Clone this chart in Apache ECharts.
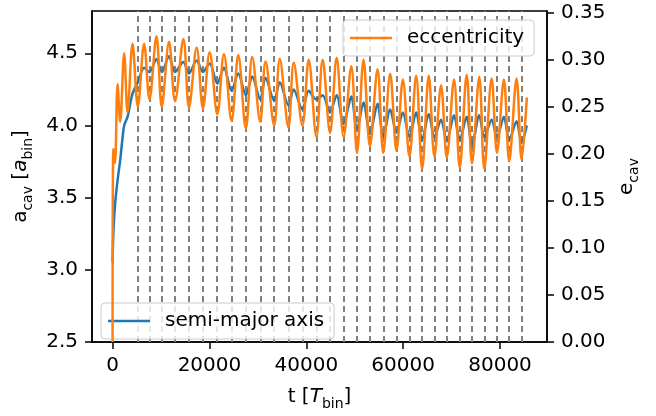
<!DOCTYPE html>
<html>
<head>
<meta charset="utf-8">
<script src="https://cdn.jsdelivr.net/npm/echarts@6/dist/echarts.min.js"></script>
<style>
  html, body { margin: 0; padding: 0; background: #fff; }
  #main { width: 656px; height: 416px; }
</style>
</head>
<body>
<div id="main"></div>
<script>
// time [T_bin]
var tTimes = [0, 150, 500, 1030, 1570, 2389, 3090, 4119, 5211, 6509, 7621, 9063, 10154, 11658,
  12894, 14624, 15777, 17363, 18661, 20041, 21627, 22986, 24572, 25952, 27517, 28836, 30484,
  31576, 33367, 34520, 36313, 37404, 39197, 40494, 42080, 43378, 44902, 46260, 47703, 49290,
  50463, 51823, 53140, 54707, 55880, 57322, 58620, 59937, 61298, 62677, 63913, 65293, 66447,
  67826, 69001, 70504, 71678, 73119, 74212, 75714, 76745, 78269, 79361, 80802, 81894, 83418,
  84448, 85540];

// a_cav [a_bin]
var semiMajor = [3.05, 3.25, 3.45, 3.62, 3.76, 4.00, 4.06, 4.22, 4.30, 4.40, 4.37, 4.46, 4.37, 4.48,
  4.37, 4.44, 4.36, 4.45, 4.37, 4.43, 4.29, 4.40, 4.24, 4.36, 4.21, 4.34, 4.18,
  4.33, 4.17, 4.30, 4.14, 4.25, 4.11, 4.24, 4.18, 4.21, 4.09, 4.21, 4.01, 4.20,
  3.97, 4.16, 3.94, 4.15, 3.92, 4.11, 3.95, 4.09, 3.92, 4.09, 3.90, 4.08, 3.92,
  4.04, 3.89, 4.07, 3.90, 4.06, 3.86, 4.07, 3.92, 4.04, 3.92, 4.06, 3.90, 4.03,
  3.88, 4.00];

// e_cav
var eccentricity = [0.0, 0.205, 0.19, 0.274, 0.234, 0.307, 0.244, 0.317, 0.250, 0.317, 0.258, 0.325, 0.250, 0.319,
  0.256, 0.322, 0.249, 0.313, 0.248, 0.308, 0.242, 0.306, 0.235, 0.305, 0.227, 0.303, 0.234,
  0.298, 0.230, 0.301, 0.228, 0.297, 0.230, 0.300, 0.218, 0.300, 0.222, 0.302, 0.218, 0.293,
  0.201, 0.300, 0.208, 0.290, 0.201, 0.285, 0.203, 0.279, 0.197, 0.283, 0.184, 0.283, 0.197,
  0.273, 0.196, 0.279, 0.185, 0.284, 0.190, 0.282, 0.184, 0.280, 0.201, 0.279, 0.192, 0.280,
  0.194, 0.260];

// vertical dashed markers
var dashedTimes = [5200, 7600, 10150, 12900, 15800, 18650, 21600, 24550, 27500, 30500, 33350,
  36300, 39200, 42100, 44900, 47700, 50450, 53150, 55900, 58600, 61300, 63900, 66450, 69000,
  71700, 74200, 76750, 79350, 81900, 84450];

var xTicks = [0, 20000, 40000, 60000, 80000];
var aTicks = [2.5, 3.0, 3.5, 4.0, 4.5];
var eTicks = [0, 0.05, 0.10, 0.15, 0.20, 0.25, 0.30, 0.35];

var font = 'DejaVu Sans';
var rich = {
  a: { fontSize: 20, fontFamily: font, color: '#000' },
  ai: { fontSize: 20, fontFamily: font, fontStyle: 'italic', color: '#000' },
  s: { fontSize: 14, fontFamily: font, color: '#000', verticalAlign: 'bottom', lineHeight: 28 }
};

var myChart = echarts.init(document.getElementById('main'), null, { renderer: 'canvas' });

var tickStyle = { color: '#000', width: 1.5 };
var labelStyle = { fontSize: 20, fontFamily: font, color: '#000' };

function legendBox(name, left, top, z) {
  return {
    data: [name],
    left: left, top: top,
    z: z,
    icon: 'rect',
    itemWidth: 42, itemHeight: 2.5,
    padding: [8, 10, 8, 7],
    backgroundColor: 'rgba(255,255,255,0.8)',
    borderColor: '#cccccc', borderWidth: 1, borderRadius: 4,
    textStyle: { fontSize: 20, fontFamily: font, color: '#000', padding: [0, 0, 0, 10] }
  };
}

var option = {
  animation: false,
  backgroundColor: '#fff',
  grid: {
    left: 92, right: 109, top: 11, bottom: 66,
    show: true, borderColor: '#000', borderWidth: 1.5, backgroundColor: 'transparent'
  },
  legend: [
    legendBox('semi-major axis', 101, 303, 3),
    legendBox('eccentricity', 343, 20, 6)
  ],
  xAxis: {
    type: 'value',
    min: -4250, max: 89700,
    splitLine: { show: false },
    axisLine: { show: true, onZero: false, lineStyle: tickStyle },
    axisTick: { customValues: xTicks, length: 7, lineStyle: tickStyle },
    axisLabel: Object.assign({
      customValues: xTicks, margin: 14,
      formatter: function (v) { return String(v); }
    }, labelStyle),
    name: '{a|t [}{ai|T}{s|bin}{a|]}',
    nameLocation: 'middle',
    nameGap: 41,
    nameTextStyle: { rich: rich }
  },
  yAxis: [
    {
      type: 'value',
      min: 2.5, max: 4.793,
      position: 'left',
      splitLine: { show: false },
      axisLine: { show: true, onZero: false, lineStyle: tickStyle },
      axisTick: { customValues: aTicks, length: 7, lineStyle: tickStyle },
      axisLabel: Object.assign({
        customValues: aTicks, margin: 14,
        formatter: function (v) { return v.toFixed(1); }
      }, labelStyle),
      name: '{a|a}{s|cav}{a| [}{ai|a}{s|bin}{a|]}',
      nameLocation: 'middle',
      nameRotate: 90,
      nameGap: 48,
      nameTextStyle: { rich: rich }
    },
    {
      type: 'value',
      min: 0, max: 0.3518,
      position: 'right',
      splitLine: { show: false },
      axisLine: { show: true, onZero: false, lineStyle: tickStyle },
      axisTick: { customValues: eTicks, length: 7, lineStyle: tickStyle },
      axisLabel: Object.assign({
        customValues: eTicks, margin: 14,
        formatter: function (v) { return v.toFixed(2); }
      }, labelStyle),
      name: '{a|e}{s|cav}',
      nameLocation: 'middle',
      nameRotate: 90,
      nameGap: 66,
      nameTextStyle: { rich: rich }
    }
  ],
  series: [
    {
      name: 'semi-major axis',
      type: 'line',
      yAxisIndex: 0,
      symbol: 'none',
      smooth: 0.3,
      z: 2,
      lineStyle: { color: '#1f77b4', width: 2.5 },
      itemStyle: { color: '#1f77b4' },
      data: tTimes.map(function (t, i) { return [t, semiMajor[i]]; }),
      markLine: {
        silent: true,
        z: 2,
        symbol: ['none', 'none'],
        label: { show: false },
        lineStyle: { color: '#808080', type: [6, 4], width: 2 },
        data: dashedTimes.map(function (t) { return { xAxis: t }; })
      }
    },
    {
      name: 'eccentricity',
      type: 'line',
      yAxisIndex: 1,
      symbol: 'none',
      smooth: 0.35,
      z: 4,
      lineStyle: { color: '#ff7f0e', width: 2.5 },
      itemStyle: { color: '#ff7f0e' },
      data: tTimes.map(function (t, i) { return [t, eccentricity[i]]; })
    }
  ]
};

myChart.setOption(option);
</script>
</body>
</html>
